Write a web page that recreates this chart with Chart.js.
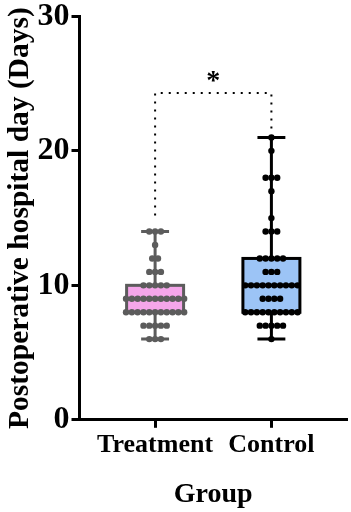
<!DOCTYPE html>
<html>
<head>
<meta charset="utf-8">
<script src="https://cdn.jsdelivr.net/npm/chart.js"></script>
<style>
  html, body { margin: 0; padding: 0; background: #fff; }
  #wrap { width: 351px; height: 512px; }
</style>
</head>
<body>
<div id="wrap"><canvas id="c"></canvas></div>
<script>
// categories and raw points (value, count of dots at that value)
var groups = ['Treatment', 'Control'];
var treatValues = [6, 7, 8, 9, 10, 11, 12, 13, 14];
var treatCounts = [3, 5, 11, 11, 5, 3, 2, 1, 3];
var ctrlValues = [6, 7, 8, 9, 10, 11, 12, 14, 15, 17, 18, 20, 21];
var ctrlCounts = [1, 5, 10, 4, 10, 3, 5, 3, 1, 1, 3, 1, 1];

// box stats: min, q1, median, q3, max
var treatBox = [6, 8, 9, 10, 14];
var ctrlBox = [6, 8, 10, 12, 21];

// significance bracket (y values) and label
var bracketTop = 24.3;
var bracketLeftEnd = 15.2;
var bracketRightEnd = 21.6;
var sigLabel = '*';

var yTicks = [0, 10, 20, 30];

// beeswarm layout: spread repeated values sideways
function swarm(cat, values, counts){
  var pts = [];
  var gap = 0.05;
  values.forEach(function(v, i){
    var n = counts[i];
    for (var k = 0; k < n; k++) {
      pts.push({ x: cat + (k - (n - 1) / 2) * gap, y: v });
    }
  });
  return pts;
}

var styles = [
  { fill: '#f5a6ea', line: '#5c5c5c' },
  { fill: '#9cc4f6', line: '#000000' }
];
var boxes = [treatBox, ctrlBox];

var boxPlugin = {
  id: 'boxes',
  beforeDatasetsDraw: function(chart){
    var ctx = chart.ctx, xs = chart.scales.x, ys = chart.scales.y;
    boxes.forEach(function(b, i){
      var cx = xs.getPixelForValue(i + 1);
      var half = xs.getPixelForValue(i + 1 + 0.245) - cx;
      var cap = xs.getPixelForValue(i + 1 + 0.12) - cx;
      var yMin = ys.getPixelForValue(b[0]), yQ1 = ys.getPixelForValue(b[1]);
      var yMed = ys.getPixelForValue(b[2]), yQ3 = ys.getPixelForValue(b[3]);
      var yMax = ys.getPixelForValue(b[4]);
      ctx.save();
      ctx.strokeStyle = styles[i].line;
      ctx.lineWidth = 3;
      // whiskers
      ctx.beginPath();
      ctx.moveTo(cx, yMax); ctx.lineTo(cx, yQ3);
      ctx.moveTo(cx, yQ1); ctx.lineTo(cx, yMin);
      ctx.moveTo(cx - cap, yMax); ctx.lineTo(cx + cap, yMax);
      ctx.moveTo(cx - cap, yMin); ctx.lineTo(cx + cap, yMin);
      ctx.stroke();
      // box
      ctx.fillStyle = styles[i].fill;
      ctx.fillRect(cx - half, yQ3, half * 2, yQ1 - yQ3);
      ctx.strokeRect(cx - half, yQ3, half * 2, yQ1 - yQ3);
      ctx.beginPath();
      ctx.moveTo(cx - half, yMed); ctx.lineTo(cx + half, yMed);
      ctx.stroke();
      ctx.restore();
    });
  },
  afterDraw: function(chart){
    var ctx = chart.ctx, xs = chart.scales.x, ys = chart.scales.y;
    var x1 = xs.getPixelForValue(1), x2 = xs.getPixelForValue(2);
    var yt = ys.getPixelForValue(bracketTop);
    ctx.save();
    ctx.strokeStyle = '#000';
    ctx.lineWidth = 2;
    ctx.setLineDash([2, 6]);
    ctx.beginPath();
    ctx.moveTo(x1, ys.getPixelForValue(bracketLeftEnd)); ctx.lineTo(x1, yt);
    ctx.lineTo(x2, yt); ctx.lineTo(x2, ys.getPixelForValue(bracketRightEnd));
    ctx.stroke();
    ctx.setLineDash([]);
    ctx.fillStyle = '#000';
    ctx.font = 'bold 28px "Liberation Serif"';
    ctx.textAlign = 'center';
    ctx.textBaseline = 'middle';
    ctx.fillText(sigLabel, (x1 + x2) / 2, yt - 11);
    ctx.restore();
  }
};

new Chart(document.getElementById('c'), {
  type: 'scatter',
  data: {
    datasets: [
      { data: swarm(1, treatValues, treatCounts), backgroundColor: '#5c5c5c', borderWidth: 0, pointRadius: 3.2 },
      { data: swarm(2, ctrlValues, ctrlCounts), backgroundColor: '#000000', borderWidth: 0, pointRadius: 3.2 }
    ]
  },
  options: {
    responsive: true,
    maintainAspectRatio: false,
    animation: false,
    layout: { padding: { left: 6, right: 3, top: 15, bottom: 3 } },
    plugins: { legend: { display: false }, tooltip: { enabled: false } },
    scales: {
      x: {
        type: 'linear', min: 0.35, max: 2.65,
        afterBuildTicks: function(s){ s.ticks = [{ value: 1 }, { value: 2 }]; },
        ticks: {
          callback: function(v){ return groups[v - 1]; },
          color: '#000', padding: 2,
          font: { family: 'Liberation Serif', size: 26, weight: 'bold', lineHeight: 1.2 }
        },
        grid: { drawOnChartArea: false, tickLength: 8, tickWidth: 3, tickColor: '#000' },
        border: { color: '#000', width: 3 },
        title: {
          display: true, text: 'Group', color: '#000', padding: { top: 18, bottom: 0 },
          font: { family: 'Liberation Serif', size: 28, weight: 'bold', lineHeight: 1 }
        }
      },
      y: {
        min: 0, max: 30,
        afterBuildTicks: function(s){ s.ticks = yTicks.map(function(v){ return { value: v }; }); },
        ticks: {
          color: '#000', padding: 2,
          font: { family: 'Liberation Serif', size: 32, weight: 'bold', lineHeight: 0.9 }
        },
        grid: { drawOnChartArea: false, tickLength: 8, tickWidth: 3, tickColor: '#000' },
        border: { color: '#000', width: 3 },
        title: {
          display: true, text: 'Postoperative hospital day (Days)', color: '#000', padding: 0,
          font: { family: 'Liberation Serif', size: 29.5, weight: 'bold', lineHeight: 1 }
        }
      }
    }
  },
  plugins: [boxPlugin]
});
</script>
</body>
</html>
